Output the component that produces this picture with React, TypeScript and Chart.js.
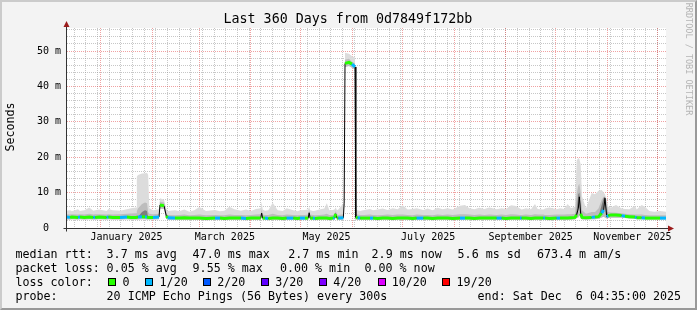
import React, { useEffect, useRef } from "react";
import { Chart, registerables } from "chart.js";
Chart.register(...registerables);

// ---- data (x = days since start of the 360-day window, y = milliseconds) ----
const days = [
  0, 2.4, 3.5, 7.2, 8.4, 11, 14, 16.4, 17.5, 20, 24.4, 25.5, 28, 32.4, 36.6, 39, 42, 42.5, 43.2, 45.6,
  47.4, 48.6, 49.3, 50, 52.2, 55.8, 56.4, 58.8, 60.2, 61, 65.4, 68, 71, 74, 77, 80, 84, 89.4, 92.4, 95,
  98, 101, 105, 108, 111, 114, 116.8, 117.4, 118, 119.4, 121.4, 124, 127, 130, 132.4, 136.4, 139, 140.4, 143.4, 145.3,
  145.9, 146.5, 148.2, 149.4, 152, 155, 156.5, 158, 160.2, 161.2, 161.8, 162.6, 163.4, 166.4, 166.9, 167.4, 169.8, 171.6, 173.4, 173.9,
  175, 176.5, 179, 182.4, 184.2, 187, 190, 193, 196, 199, 202, 205, 208, 210.4, 214.4, 217, 220, 223, 226, 229,
  232, 236.4, 239.4, 242, 245, 248, 251, 254, 258.4, 261.4, 264, 267, 270, 272.4, 273.4, 276, 279, 281.4, 283, 286.4,
  287.4, 290, 294.4, 296.4, 299, 301, 303, 305.4, 306.4, 307.4, 308.0, 308.8, 309.6, 312, 315.4, 317.4, 319.5, 321.4, 322.6, 323.4,
  324.4, 325.4, 327, 330, 333.4, 335.4, 338, 341.4, 342.4, 345.4, 347.4, 350, 353, 356.4, 360,
];
const median = [
  3.1, 3.0, 3.1, 3.0, 3.1, 3.0, 3.1, 3.0, 3.0, 3.1, 3.0, 3.1, 3.0, 3.0, 3.1, 3.0, 3.0, 3.0, 3.1, 3.2,
  3.1, 3.1, 3.0, 3.0, 3.0, 3.1, 6.5, 6.3, 3.4, 2.9, 2.8, 2.8, 2.9, 2.8, 2.8, 2.8, 2.7, 2.8, 2.8, 2.7,
  2.8, 2.8, 2.8, 2.7, 2.8, 2.8, 2.8, 4.2, 2.8, 2.8, 2.7, 2.8, 2.8, 2.7, 2.8, 2.8, 2.7, 2.8, 2.8, 2.8,
  4.3, 2.8, 2.8, 2.7, 2.8, 2.8, 2.8, 2.7, 2.8, 2.9, 4.0, 2.8, 2.8, 2.9, 7.0, 46.5, 46.8, 46.3, 45.5, 3.0,
  2.9, 2.8, 2.8, 2.8, 2.8, 2.7, 2.8, 2.8, 2.7, 2.8, 2.8, 2.8, 2.7, 2.8, 2.8, 2.8, 2.7, 2.8, 2.8, 2.8,
  2.7, 2.8, 2.8, 2.8, 2.7, 2.8, 2.8, 2.8, 2.8, 2.8, 2.7, 2.8, 2.8, 2.8, 2.8, 2.8, 2.7, 2.8, 2.8, 2.8,
  2.8, 2.7, 2.8, 2.8, 2.8, 2.8, 2.9, 3.0, 3.7, 5.6, 8.8, 4.0, 3.0, 2.9, 3.0, 3.1, 3.2, 4.2, 5.1, 8.4,
  3.2, 3.5, 3.7, 3.7, 3.5, 3.3, 3.2, 3.1, 2.9, 2.9, 2.8, 2.8, 2.8, 2.8, 2.8,
];
// loss level index per segment (0 = 0/20, 1 = 1/20)
const loss = [
  1, 0, 0, 1, 0, 0, 0, 1, 0, 0, 1, 0, 0, 1, 0, 0, 0, 0, 1, 0,
  1, 0, 0, 0, 1, 0, 0, 0, 0, 1, 0, 0, 0, 0, 0, 0, 0, 1, 0, 0,
  0, 0, 1, 0, 0, 0, 0, 0, 0, 1, 0, 0, 0, 0, 1, 0, 0, 1, 0, 0,
  0, 0, 1, 0, 0, 0, 0, 0, 1, 0, 0, 0, 1, 0, 0, 0, 0, 1, 0, 0,
  1, 0, 0, 1, 0, 0, 0, 0, 0, 0, 0, 0, 0, 1, 0, 0, 0, 0, 0, 0,
  0, 1, 0, 0, 0, 0, 0, 0, 1, 0, 0, 0, 0, 1, 0, 0, 0, 0, 0, 1,
  0, 0, 1, 0, 0, 0, 0, 0, 1, 1, 0, 0, 0, 0, 1, 0, 0, 1, 1, 0,
  1, 0, 0, 0, 1, 0, 0, 1, 0, 1, 0, 0, 0, 1, 0,
];
const smokeLow = [
  2.4, 2.4, 2.5, 2.4, 2.5, 2.4, 2.5, 2.4, 2.4, 2.5, 2.4, 2.5, 2.4, 2.4, 2.5, 2.4, 2.4, 2.4, 2.4, 2.5,
  2.5, 2.4, 2.4, 2.4, 2.4, 2.5, 5.5, 5.4, 2.6, 2.3, 2.3, 2.3, 2.3, 2.3, 2.3, 2.3, 2.2, 2.3, 2.3, 2.2,
  2.3, 2.3, 2.3, 2.2, 2.3, 2.3, 2.3, 3.0, 2.3, 2.3, 2.2, 2.3, 2.3, 2.2, 2.3, 2.3, 2.2, 2.3, 2.3, 2.3,
  3.0, 2.3, 2.3, 2.2, 2.3, 2.3, 2.3, 2.2, 2.3, 2.3, 2.9, 2.3, 2.3, 2.3, 6.5, 45.5, 45.8, 45.3, 44.8, 2.4,
  2.3, 2.3, 2.3, 2.3, 2.3, 2.2, 2.3, 2.3, 2.2, 2.3, 2.3, 2.3, 2.2, 2.3, 2.3, 2.3, 2.2, 2.3, 2.3, 2.3,
  2.2, 2.3, 2.3, 2.3, 2.2, 2.3, 2.3, 2.3, 2.3, 2.3, 2.2, 2.3, 2.3, 2.3, 2.3, 2.3, 2.2, 2.3, 2.3, 2.3,
  2.3, 2.2, 2.3, 2.3, 2.3, 2.3, 2.3, 2.4, 2.8, 3.0, 3.5, 2.8, 2.4, 2.4, 2.5, 2.5, 2.6, 3.0, 3.2, 3.0,
  2.7, 2.8, 2.9, 2.9, 2.9, 2.8, 2.7, 2.6, 2.5, 2.5, 2.4, 2.4, 2.4, 2.4, 2.4,
];
const smokeMid = [
  3.9, 3.8, 3.9, 3.8, 3.9, 3.8, 4.0, 3.8, 3.9, 3.9, 3.8, 3.9, 3.8, 3.9, 4.0, 4.1, 4.2, 4.8, 5.5, 6.8,
  7.2, 7.0, 4.5, 4.0, 3.9, 4.0, 7.4, 7.2, 4.2, 3.7, 3.6, 3.7, 3.8, 3.6, 3.7, 3.8, 3.6, 3.7, 3.6, 3.6,
  3.8, 3.7, 3.7, 3.6, 3.7, 3.8, 3.9, 5.2, 3.8, 3.7, 3.7, 4.0, 3.7, 3.6, 3.8, 3.7, 3.6, 3.7, 3.7, 3.8,
  5.0, 3.8, 3.7, 3.6, 3.7, 3.8, 4.0, 3.7, 3.7, 3.9, 4.8, 3.8, 3.7, 3.9, 7.2, 47.5, 47.8, 47.0, 46.5, 3.8,
  3.8, 3.7, 3.7, 3.8, 3.7, 3.6, 3.7, 3.8, 3.7, 3.8, 3.8, 3.7, 3.6, 3.8, 3.7, 3.7, 3.6, 3.8, 3.7, 3.8,
  3.7, 3.9, 3.9, 3.8, 3.7, 3.8, 3.7, 3.8, 3.7, 3.8, 3.7, 3.9, 3.8, 3.7, 3.7, 3.8, 3.7, 3.9, 3.8, 3.8,
  3.7, 3.7, 3.8, 3.8, 3.8, 3.9, 3.9, 4.0, 9.5, 12.0, 12.5, 10.0, 5.0, 4.0, 4.5, 4.5, 5.5, 8.0, 8.8, 8.8,
  7.0, 4.5, 4.4, 4.3, 4.2, 4.0, 3.9, 3.8, 3.8, 3.8, 3.7, 3.6, 3.6, 3.6, 3.6,
];
const smokeHigh = [
  4.9, 5.0, 4.7, 5.3, 4.8, 5.0, 5.8, 4.9, 5.0, 5.2, 4.8, 5.4, 5.0, 4.9, 5.3, 5.6, 5.8, 14.5, 15.0, 15.4,
  15.5, 15.6, 15.0, 5.6, 5.0, 5.3, 8.4, 8.0, 5.4, 4.8, 5.0, 4.7, 5.2, 4.6, 5.0, 5.9, 4.8, 5.1, 4.7, 4.9,
  6.0, 5.3, 4.9, 5.2, 4.8, 5.4, 5.6, 7.4, 5.2, 4.9, 5.0, 7.1, 5.0, 4.8, 5.6, 5.0, 4.7, 5.0, 5.1, 5.2,
  6.0, 5.0, 4.8, 4.9, 5.2, 5.5, 7.0, 5.0, 5.1, 5.3, 5.8, 5.0, 5.2, 7.0, 7.6, 49.5, 49.2, 48.5, 48.2, 5.2,
  5.0, 4.8, 5.1, 5.4, 5.0, 5.2, 5.5, 5.1, 5.6, 5.3, 6.4, 5.2, 5.4, 5.6, 5.1, 5.5, 5.0, 5.7, 5.3, 5.6,
  5.2, 6.3, 6.5, 5.6, 5.3, 5.7, 5.4, 5.8, 5.3, 5.6, 5.4, 6.4, 6.2, 5.5, 5.2, 5.6, 5.3, 6.8, 5.4, 5.2,
  5.5, 5.8, 5.3, 5.6, 5.4, 6.8, 5.6, 6.0, 19.0, 19.8, 19.5, 18.0, 9.0, 5.5, 9.9, 9.5, 10.5, 10.7, 10.0, 9.5,
  8.0, 6.0, 5.8, 6.5, 5.5, 5.4, 5.3, 6.3, 5.2, 6.5, 6.0, 4.8, 4.6, 4.8, 4.6,
];
const N = null;
const smokeDark = [
  N, N, N, N, N, N, N, N, N, N, N, N, N, N, N, N, N, N, 3.1, 4.5,
  5.0, 4.8, 3.0, N, N, N, N, N, N, N, N, N, N, N, N, N, N, N, N, N,
  N, N, N, N, N, N, N, N, N, N, N, N, N, N, N, N, N, N, N, N,
  N, N, N, N, N, N, N, N, N, N, N, N, N, N, N, N, N, N, N, N,
  N, N, N, N, N, N, N, N, N, N, N, N, N, N, N, N, N, N, N, N,
  N, N, N, N, N, N, N, N, N, N, N, N, N, N, N, N, N, N, N, N,
  N, N, N, N, N, N, N, 3.0, 5.0, 9.5, 10.0, 6.0, 3.0, N, 3.0, 3.1, 3.2, 6.5, 8.5, 8.8,
  5.0, 3.5, N, N, N, N, N, N, N, N, N, N, N, N, N,
];

// ---- axis ticks / labels ----
const monthStartDays = [20.809, 51.809, 79.809, 110.809, 140.809, 171.809, 201.809, 232.809, 263.809, 293.809, 324.809, 354.809];
const monthLabelDays = [36.309, 95.309, 156.309, 217.309, 278.809, 339.809];
const monthLabels = ["January 2025", "March 2025", "May 2025", "July 2025", "September 2025", "November 2025"];
const firstMondayDay = 4.809;
const yTickValues = [0, 2, 4, 6, 8, 10, 12, 14, 16, 18, 20, 22, 24, 26, 28, 30, 32, 34, 36, 38, 40, 42, 44, 46, 48, 50, 52, 54, 56];
const yLabelValues = [0, 10, 20, 30, 40, 50];
const yLabelTexts = ["0  ", "10 m", "20 m", "30 m", "40 m", "50 m"];

// ---- texts ----
const titleText = "Last 360 Days from 0d7849f172bb";
const yTitle = "Seconds";
const watermark = "RRDTOOL / TOBI OETIKER";
const rowLabels = ["median rtt:", "packet loss:", "loss color:", "probe:"];
const rttStats = ["3.7 ms avg", "47.0 ms max", "2.7 ms min", "2.9 ms now", "5.6 ms sd", "673.4 m am/s"];
const lossStats = ["0.05 % avg", "9.55 % max", "0.00 % min", "0.00 % now"];
const lossLegend = ["0", "1/20", "2/20", "3/20", "4/20", "10/20", "19/20"];
const lossColors = ["#26ff00", "#00b8ff", "#0059ff", "#5e00ff", "#7e00ff", "#dd00ff", "#ff0000"];
const probeText = "20 ICMP Echo Pings (56 Bytes) every 300s";
const endText = "end: Sat Dec  6 04:35:00 2025";

// ---- layout (pixels) ----
const W = 697, H = 310;
const PLOT = { left: 66, right: 666, top: 28, bottom: 228 };
const rowY = [254, 268.3, 282.4, 296.6];
const rttCols = [106.6, 192.6, 288.3, 371.6, 457.6, 537];
const lossCols = [106.6, 192.6, 280, 364.5];
const boxCols = [108.3, 145.3, 203, 261, 319, 377.5, 442.3];
const MONO = "'DejaVu Sans Mono', monospace";
const GRID = "rgba(143,143,143,0.5)";
const MGRID = "rgba(222,48,48,0.45)";
const AXIS = "#333333";
const ARROW = "#9b1c1c";

const decorPlugin = {
  id: "decor",
  beforeDraw(chart: any) {
    const { ctx, chartArea: a } = chart;
    ctx.save();
    ctx.fillStyle = "#ffffff";
    ctx.fillRect(a.left, a.top, a.right - a.left, a.bottom - a.top);
    ctx.restore();
  },
  afterDraw(chart: any) {
    const { ctx, chartArea: a } = chart;
    const x = Math.round(a.left - 0.5) + 0.5;
    const y = Math.round(a.bottom - 0.5) + 0.5;
    ctx.save();
    ctx.strokeStyle = AXIS;
    ctx.lineWidth = 1;
    ctx.beginPath();
    ctx.moveTo(x, y + 3);
    ctx.lineTo(x, a.top - 2);
    ctx.moveTo(x - 3, y);
    ctx.lineTo(a.right + 2, y);
    ctx.stroke();
    ctx.fillStyle = ARROW;
    ctx.beginPath();
    ctx.moveTo(x, a.top - 7);
    ctx.lineTo(x - 3, a.top - 1);
    ctx.lineTo(x + 3, a.top - 1);
    ctx.closePath();
    ctx.fill();
    ctx.beginPath();
    ctx.moveTo(a.right + 8, y);
    ctx.lineTo(a.right + 2, y - 3);
    ctx.lineTo(a.right + 2, y + 3);
    ctx.closePath();
    ctx.fill();
    ctx.restore();
  },
};

function Text({ x, y, size, children, color = "#000" }: any) {
  return (
    <span
      style={{
        position: "absolute",
        left: x,
        top: y - size * 0.62,
        fontFamily: MONO,
        fontSize: size,
        lineHeight: `${Math.round(size * 1.2)}px`,
        whiteSpace: "pre",
        color,
      }}
    >
      {children}
    </span>
  );
}

export default function App() {
  const ref = useRef<HTMLCanvasElement>(null);

  useEffect(() => {
    const canvas = ref.current!;
    const pts = (arr: (number | null)[]) => days.map((d, i) => ({ x: d, y: arr[i] }));
    const weekly: number[] = [];
    for (let d = firstMondayDay; d < 360; d += 7) weekly.push(d);
    const monthSet = new Set(monthStartDays);
    const weekSet = new Set(weekly);
    const xTicks = [...weekly, ...monthStartDays, ...monthLabelDays].sort((a, b) => a - b);
    const xLabel = new Map<number, string>();
    monthLabelDays.forEach((d, i) => xLabel.set(d, monthLabels[i]));
    const yLabel = new Map<number, string>();
    yLabelValues.forEach((v, i) => yLabel.set(v, yLabelTexts[i]));
    const none = "rgba(0,0,0,0)";
    const common = { pointRadius: 0, pointHoverRadius: 0, tension: 0 };

    const chart = new Chart(canvas, {
      type: "line",
      data: {
        datasets: [
          {
            label: "median",
            data: pts(median),
            ...common,
            borderWidth: 3,
            borderCapStyle: "butt",
            borderColor: lossColors[0],
            fill: false,
            order: 1,
            segment: {
              borderColor: (c: any) =>
                Math.abs(c.p1.parsed.y - c.p0.parsed.y) > 1.2 ? none : lossColors[loss[c.p0DataIndex]],
            },
          },
          { label: "median line", data: pts(median), ...common, borderWidth: 1, borderColor: "#000", fill: false, order: 2 },
          { label: "low", data: pts(smokeLow), ...common, borderWidth: 0, borderColor: none, fill: false, order: 10 },
          { label: "high", data: pts(smokeHigh), ...common, borderWidth: 0, borderColor: none, backgroundColor: "#dcdcdc", fill: 2, order: 9 },
          { label: "mid", data: pts(smokeMid), ...common, borderWidth: 0, borderColor: none, backgroundColor: "#bdbdbd", fill: 2, order: 8 },
          { label: "dark", data: pts(smokeDark), ...common, borderWidth: 0, borderColor: none, backgroundColor: "#7d7d7d", fill: 1, order: 7, spanGaps: false },
        ] as any,
      },
      options: {
        animation: false,
        responsive: false,
        events: [],
        layout: { padding: { left: 0, top: PLOT.top, right: W - PLOT.right, bottom: H - PLOT.bottom - 20 } },
        plugins: { legend: { display: false }, tooltip: { enabled: false }, title: { display: false } },
        scales: {
          x: {
            type: "linear",
            min: 0,
            max: 360,
            afterBuildTicks: (s: any) => {
              s.ticks = xTicks.map((v) => ({ value: v }));
            },
            afterFit: (s: any) => {
              s.height = 20;
            },
            ticks: {
              autoSkip: false,
              maxRotation: 0,
              minRotation: 0,
              padding: 3,
              color: "#000",
              font: { family: MONO, size: 10 },
              callback: (v: any) => xLabel.get(v) ?? "",
            },
            grid: {
              drawTicks: false,
              lineWidth: 1,
              color: (c: any) => {
                const v = c.tick ? c.tick.value : -1;
                return monthSet.has(v) ? MGRID : weekSet.has(v) ? GRID : none;
              },
            },
            border: { color: AXIS, width: 1, dash: [1, 1] },
          },
          y: {
            type: "linear",
            min: 0,
            max: 56.5,
            afterBuildTicks: (s: any) => {
              s.ticks = yTickValues.map((v) => ({ value: v }));
            },
            afterFit: (s: any) => {
              s.width = PLOT.left;
            },
            ticks: {
              autoSkip: false,
              padding: 5,
              color: "#000",
              font: { family: MONO, size: 10 },
              callback: (v: any) => yLabel.get(v) ?? "",
            },
            grid: {
              drawTicks: false,
              lineWidth: 1,
              color: (c: any) => (c.tick && c.tick.value % 10 === 0 ? MGRID : GRID),
            },
            border: { color: AXIS, width: 1, dash: [1, 1] },
          },
        },
      } as any,
      plugins: [decorPlugin],
    });
    return () => chart.destroy();
  }, []);

  const LS = 11.67;
  return (
    <div style={{ position: "absolute", left: 0, top: 0, width: W, height: H, background: "#f3f3f3", overflow: "hidden" }}>
      <canvas ref={ref} width={W} height={H} style={{ position: "absolute", left: 0, top: 0, width: W, height: H }} />
      <div
        style={{
          position: "absolute",
          left: 0,
          top: 0,
          width: W,
          height: H,
          boxSizing: "border-box",
          borderTop: "2px solid #cbcbcb",
          borderLeft: "2px solid #cbcbcb",
          borderRight: "2px solid #999999",
          borderBottom: "2px solid #999999",
          pointerEvents: "none",
        }}
      />
      <Text x={223.5} y={19.5} size={13.33}>{titleText}</Text>
      <div
        style={{
          position: "absolute",
          left: 10,
          top: 127,
          transform: "translate(-50%, -50%) rotate(-90deg)",
          fontFamily: MONO,
          fontSize: 11.67,
          lineHeight: "14px",
          whiteSpace: "pre",
          color: "#000",
        }}
      >
        {yTitle}
      </div>
      <div
        style={{
          position: "absolute",
          left: 688.5,
          top: 58.5,
          transform: "translate(-50%, -50%) rotate(90deg)",
          fontFamily: MONO,
          fontSize: 8.5,
          lineHeight: "10px",
          whiteSpace: "pre",
          color: "#b4b4b4",
        }}
      >
        {watermark}
      </div>
      {rowLabels.map((t, i) => (
        <Text key={"l" + i} x={15.5} y={rowY[i]} size={LS}>{t}</Text>
      ))}
      {rttStats.map((t, i) => (
        <Text key={"r" + i} x={rttCols[i]} y={rowY[0]} size={LS}>{t}</Text>
      ))}
      {lossStats.map((t, i) => (
        <Text key={"p" + i} x={lossCols[i]} y={rowY[1]} size={LS}>{t}</Text>
      ))}
      {lossLegend.map((t, i) => (
        <React.Fragment key={"c" + i}>
          <div
            style={{
              position: "absolute",
              left: boxCols[i],
              top: rowY[2] - 4.5,
              width: 8,
              height: 8,
              boxSizing: "border-box",
              border: "1px solid #000",
              background: lossColors[i],
            }}
          />
          <Text x={boxCols[i] + 14.3} y={rowY[2]} size={LS}>{t}</Text>
        </React.Fragment>
      ))}
      <Text x={106.6} y={rowY[3]} size={LS}>{probeText}</Text>
      <Text x={477.6} y={rowY[3]} size={LS}>{endText}</Text>
    </div>
  );
}
